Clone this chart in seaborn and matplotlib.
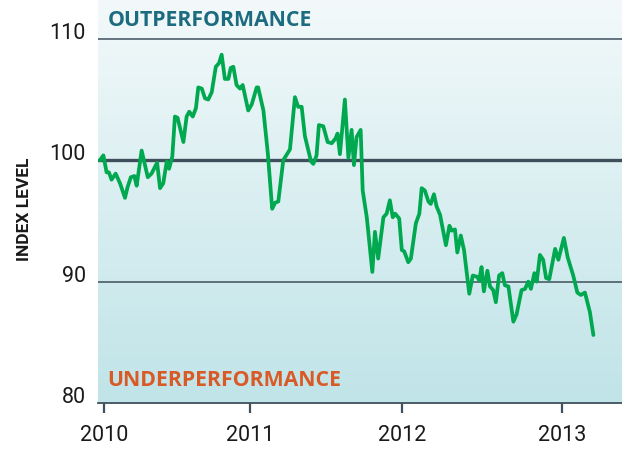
import numpy as np
import matplotlib
matplotlib.use("Agg")
import matplotlib.pyplot as plt
from matplotlib.colors import LinearSegmentedColormap
import seaborn as sns

# index level (x in weeks from start of 2010)
weeks = [-1.4, -0.2, 0.9, 1.7, 2.6, 4.0, 5.5, 7.2, 8.1, 9.2, 10.4, 11.2, 12.9, 15.0, 16.3,
         18.2, 19.2, 20.3, 21.5, 22.3, 23.4, 24.3, 25.2, 27.2, 28.3, 29.2, 30.4, 31.5, 32.3,
         33.5, 34.6, 35.7, 36.9, 38.3, 39.4, 40.3, 41.4, 42.6, 43.4, 44.3, 45.4, 46.6, 47.5,
         49.4, 50.6, 52.3, 52.8, 54.6, 56.1, 57.6, 58.6, 59.7, 61.4, 63.7, 65.4, 66.5, 67.7,
         68.8, 70.9, 71.7, 72.8, 73.6, 75.1, 76.6, 78.0, 79.3, 80.0, 80.8, 82.5, 83.7, 84.8,
         85.6, 86.5, 87.9, 88.6, 90.0, 91.9, 92.8, 93.9, 95.7, 96.8, 97.9, 98.9, 99.7, 101.1,
         102.0, 102.8, 104.2, 105.1, 106.8, 108.0, 108.8, 109.9, 111.1, 111.9, 113.0, 113.9,
         115.1, 117.1, 118.3, 119.1, 120.2, 121.0, 122.2, 123.3, 125.1, 126.3, 127.8, 128.5,
         129.3, 130.1, 131.3, 132.2, 133.3, 134.2, 135.3, 136.4, 137.3, 138.5, 140.2, 141.3,
         143.0, 144.2, 145.3, 146.2, 147.4, 148.2, 149.3, 150.4, 151.4, 152.5, 154.5, 155.6,
         157.5, 158.8, 160.7, 162.1, 163.3, 164.7, 166.4, 167.6]
index_level = [100.0, 100.4, 99.0, 99.0, 98.4, 98.9, 98.1, 96.9, 97.8, 98.6, 98.7, 97.9, 100.8,
               98.6, 98.9, 99.8, 97.7, 98.1, 99.9, 99.3, 100.3, 103.6, 103.5, 101.5, 103.6,
               104.0, 103.6, 104.3, 106.0, 105.9, 105.1, 105.0, 105.6, 107.7, 108.0, 108.7,
               106.7, 106.7, 107.6, 107.7, 106.2, 105.9, 106.2, 104.1, 104.6, 106.0, 106.0,
               104.1, 100.6, 96.0, 96.5, 96.6, 100.0, 100.9, 105.2, 104.4, 104.4, 102.0, 99.9,
               99.7, 100.4, 102.9, 102.8, 101.5, 101.4, 101.8, 102.2, 100.5, 105.0, 100.2,
               102.5, 99.6, 101.9, 102.5, 97.5, 95.3, 90.8, 94.1, 91.9, 95.3, 95.6, 96.7, 95.3,
               95.6, 95.2, 92.6, 92.5, 91.6, 91.9, 94.8, 95.6, 97.7, 97.5, 96.6, 96.4, 97.2,
               96.2, 95.5, 93.0, 94.6, 94.2, 94.3, 92.4, 93.8, 92.6, 89.0, 90.5, 90.4, 90.1,
               91.2, 89.2, 90.9, 89.6, 89.3, 88.3, 90.5, 90.7, 89.7, 89.6, 86.7, 87.3, 89.3,
               89.4, 90.0, 89.4, 90.7, 90.0, 92.2, 91.8, 90.3, 90.2, 92.7, 91.8, 93.6, 92.0,
               90.5, 89.1, 88.9, 89.1, 87.5, 85.6]

year_ticks = [0, 50, 102, 157]
year_labels = ["2010", "2011", "2012", "2013"]
y_ticks = [80, 90, 100, 110]

sns.set_theme(style="white")
plt.rcParams["font.family"] = ["Roboto", "DejaVu Sans"]

fig = plt.figure(figsize=(6.22, 4.49), dpi=100)
ax = fig.add_axes([0.158, 0.1024, 0.842, 0.8976])

x0, x1 = -1.95, 177.4
y0, y1 = 80, 113.2
ax.set_xlim(x0, x1)
ax.set_ylim(y0, y1)

# background gradient
cmap = LinearSegmentedColormap.from_list("bg", ["#c0e4e8", "#f3f9fa"])
grad = np.linspace(0, 1, 256).reshape(-1, 1)
ax.imshow(grad, cmap=cmap, origin="lower", aspect="auto",
          extent=[x0, x1, y0, y1], zorder=0)

ax.axhline(110, color="#3f505c", lw=1.1, zorder=1)
ax.axhline(90, color="#3f505c", lw=1.1, zorder=1)
ax.axhline(100, color="#3f505c", lw=2.4, zorder=1)

sns.lineplot(x=weeks, y=index_level, ax=ax, color="#00a84f", lw=2.7,
             sort=False, estimator=None, zorder=3)

for side in ["left", "right", "top"]:
    ax.spines[side].set_visible(False)
ax.spines["bottom"].set_color("#3f505c")
ax.spines["bottom"].set_linewidth(1.3)

ax.set_xticks(year_ticks)
ax.set_xticklabels(year_labels)
ax.set_yticks(y_ticks)
ax.set_yticklabels([str(v) for v in y_ticks])
ax.tick_params(axis="x", bottom=True, direction="out", length=7, width=1.6,
               color="#3f505c", labelsize=15.5, labelcolor="#1a1a1a", pad=9)
ax.tick_params(axis="y", left=False, length=0, labelsize=15.5,
               labelcolor="#1a1a1a", pad=9)
for lab in ax.get_yticklabels():
    lab.set_va("baseline")

ax.set_ylabel("INDEX LEVEL", fontsize=12.5, fontweight="bold", color="#1a1a1a")
ax.yaxis.set_label_coords(-0.126, 0.48)

label_font = ["Open Sans", "DejaVu Sans"]
ax.text(0.018, 0.949, "OUTPERFORMANCE", transform=ax.transAxes, fontsize=15.3,
        fontweight="bold", family=label_font, color="#1d6b7e",
        va="center", ha="left", zorder=4)
ax.text(0.018, 0.057, "UNDERPERFORMANCE", transform=ax.transAxes, fontsize=15.3,
        fontweight="bold", family=label_font, color="#d95a27",
        va="center", ha="left", zorder=4)

fig.savefig("out.png", dpi=100)
